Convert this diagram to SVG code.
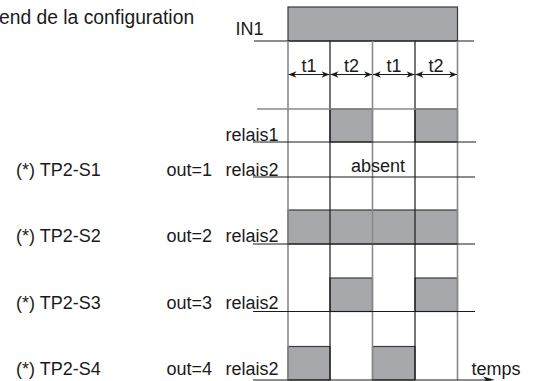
<svg xmlns="http://www.w3.org/2000/svg" width="534" height="381" viewBox="0 0 534 381">
<defs>
<style>
text{font-family:"Liberation Sans",Arial,sans-serif;font-size:18px;fill:#1a1a1a}
.box{fill:#a7a8ab;stroke:#3a3a3a;stroke-width:1.2}
.blk{stroke:#1a1a1a;stroke-width:1.2;fill:none}
.gry{stroke:#8a8a8a;stroke-width:1.6;fill:none}
.arr{stroke:#1a1a1a;stroke-width:1;fill:none;marker-start:url(#ah);marker-end:url(#ah)}
</style>
<marker id="ah" viewBox="0 0 10 8" refX="10" refY="4" markerWidth="8" markerHeight="6.4" orient="auto-start-reverse" markerUnits="userSpaceOnUse">
<path d="M0,0 L10,4 L0,8 L3,4 z" fill="#1a1a1a"/>
</marker>
</defs>
<rect width="534" height="381" fill="#fff"/>
<text x="-1" y="24" style="font-size:19.3px">end de la configuration</text>

<g id="in1">
<rect class="box" x="288" y="7" width="169.5" height="34"/>
<text x="263.5" y="35" text-anchor="end">IN1</text>
</g>

<g id="timing-boxes">
<rect class="box" x="330" y="109" width="42.5" height="33"/>
<rect class="box" x="415" y="109" width="42.5" height="33"/>
<rect class="box" x="288" y="210" width="169.5" height="34"/>
<rect class="box" x="330" y="278" width="42.5" height="33.5"/>
<rect class="box" x="415" y="278" width="42.5" height="33.5"/>
<rect class="box" x="288" y="346.5" width="42" height="33.5"/>
<rect class="box" x="372.5" y="346.5" width="42.5" height="33.5"/>
</g>

<g id="connectors">
<line class="blk" x1="254" y1="41" x2="474" y2="41"/>
<line class="gry" x1="288" y1="41" x2="288" y2="380"/>
<line class="blk" x1="330" y1="41" x2="330" y2="380"/>
<line class="gry" x1="372.5" y1="41" x2="372.5" y2="380"/>
<line class="blk" x1="415" y1="41" x2="415" y2="380"/>
<line class="gry" x1="457.5" y1="41" x2="457.5" y2="380"/>
<line class="gry" x1="257" y1="109" x2="458" y2="109"/>
<line class="blk" x1="253" y1="142" x2="476" y2="142"/>
<line class="blk" x1="253" y1="177" x2="475" y2="177"/>
<line class="blk" x1="253" y1="244" x2="475" y2="244"/>
<line class="blk" x1="253" y1="311.5" x2="475" y2="311.5"/>
<line class="blk" x1="253" y1="380" x2="491" y2="380"/>
<path d="M483,376.5 L495,380 L483,381.5 L486,380 z" fill="#1a1a1a"/>
<line class="arr" x1="288.5" y1="74.5" x2="329.5" y2="74.5"/>
<line class="arr" x1="330.5" y1="74.5" x2="372" y2="74.5"/>
<line class="arr" x1="373" y1="74.5" x2="414.5" y2="74.5"/>
<line class="arr" x1="415.5" y1="74.5" x2="457" y2="74.5"/>
</g>

<g id="labels-t" text-anchor="middle">
<text x="309" y="72">t1</text>
<text x="351.5" y="72">t2</text>
<text x="394" y="72">t1</text>
<text x="436" y="72">t2</text>
</g>

<g id="row-relais1">
<text x="278.5" y="141" text-anchor="end">relais1</text>
</g>
<g id="row-s1">
<text x="16" y="175.5">(*) TP2-S1</text>
<text x="166.5" y="175.5">out=1</text>
<text x="278.5" y="175.5" text-anchor="end">relais2</text>
<text x="378" y="171.5" text-anchor="middle">absent</text>
</g>
<g id="row-s2">
<text x="16" y="242">(*) TP2-S2</text>
<text x="166.5" y="242">out=2</text>
<text x="278.5" y="242" text-anchor="end">relais2</text>
</g>
<g id="row-s3">
<text x="16" y="308.5">(*) TP2-S3</text>
<text x="166.5" y="308.5">out=3</text>
<text x="278.5" y="308.5" text-anchor="end">relais2</text>
</g>
<g id="row-s4">
<text x="16" y="374.5">(*) TP2-S4</text>
<text x="166.5" y="374.5">out=4</text>
<text x="278.5" y="374.5" text-anchor="end">relais2</text>
<text x="471.5" y="375">temps</text>
</g>
</svg>
